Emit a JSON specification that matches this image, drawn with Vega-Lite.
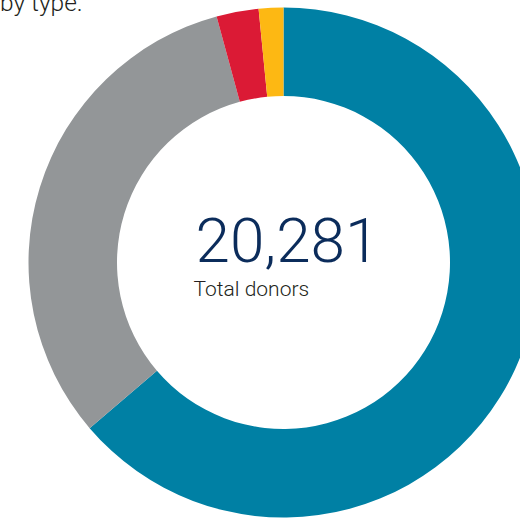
{
  "$schema": "https://vega.github.io/schema/vega-lite/v6.json",
  "width": 567,
  "height": 525,
  "autosize": {"type": "none"},
  "padding": {"left": 0, "top": 0, "right": -47, "bottom": -7},
  "background": "white",
  "title": {
    "text": "by type.",
    "anchor": "start",
    "orient": "top",
    "frame": "group",
    "offset": -40,
    "baseline": "bottom",
    "fontSize": 24.5,
    "font": "Roboto",
    "fontWeight": 300,
    "color": "#231f20"
  },
  "config": {"view": {"stroke": null}},
  "layer": [
    {
      "data": {
        "values": [
          {"type": "Type A", "count": 12928, "order": 1},
          {"type": "Type B", "count": 6496, "order": 2},
          {"type": "Type C", "count": 541, "order": 3},
          {"type": "Type D", "count": 316, "order": 4}
        ]
      },
      "mark": {"type": "arc", "outerRadius": 255, "innerRadius": 166.5},
      "encoding": {
        "theta": {"field": "count", "type": "quantitative", "stack": true},
        "order": {"field": "order", "type": "quantitative"},
        "color": {
          "field": "type",
          "type": "nominal",
          "scale": {
            "domain": ["Type A", "Type B", "Type C", "Type D"],
            "range": ["#0080a4", "#939698", "#db1a35", "#fdb813"]
          },
          "legend": null
        }
      }
    },
    {
      "data": {"values": [{"label": "20,281"}]},
      "mark": {
        "type": "text",
        "align": "left",
        "baseline": "alphabetic",
        "dx": -88,
        "dy": -1,
        "fontSize": 62,
        "font": "Roboto",
        "fontWeight": 300,
        "color": "#0b2c5b"
      },
      "encoding": {"text": {"field": "label"}}
    },
    {
      "data": {"values": [{"label": "Total donors"}]},
      "mark": {
        "type": "text",
        "align": "left",
        "baseline": "alphabetic",
        "dx": -90,
        "dy": 33,
        "fontSize": 21,
        "font": "Roboto",
        "fontWeight": 300,
        "color": "#231f20"
      },
      "encoding": {"text": {"field": "label"}}
    }
  ]
}
